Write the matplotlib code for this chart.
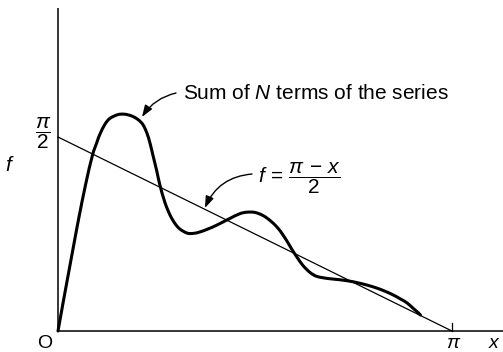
import matplotlib
matplotlib.use("Agg")
import matplotlib.pyplot as plt
from matplotlib.path import Path
from matplotlib.patches import PathPatch
import numpy as np

plt.rcParams['font.family'] = ['Liberation Sans', 'DejaVu Sans']
plt.rcParams['mathtext.fontset'] = 'custom'
plt.rcParams['mathtext.rm'] = 'Liberation Sans'
plt.rcParams['mathtext.it'] = 'Liberation Sans:italic'
plt.rcParams['mathtext.sf'] = 'Liberation Sans'

# partial sum of the Fourier series, sampled along the curve
x_sum = [0.000, 0.048, 0.088, 0.128, 0.167, 0.221, 0.274, 0.311, 0.335, 0.375,
         0.415, 0.478, 0.534, 0.590, 0.638, 0.678, 0.710, 0.734, 0.758, 0.789,
         0.813, 0.853, 0.893, 0.933, 0.973, 1.029, 1.077, 1.132, 1.196, 1.268,
         1.372, 1.451, 1.507, 1.571, 1.635, 1.691, 1.746, 1.786, 1.826, 1.866,
         1.906, 1.954, 2.010, 2.065, 2.153, 2.249, 2.329, 2.384, 2.464, 2.544,
         2.608, 2.671, 2.727, 2.783, 2.831, 2.871, 2.890]
y_sum = [0.000, 0.270, 0.490, 0.710, 0.920, 1.190, 1.420, 1.530, 1.595, 1.675,
         1.722, 1.752, 1.755, 1.740, 1.712, 1.670, 1.600, 1.520, 1.420, 1.290,
         1.180, 1.040, 0.940, 0.870, 0.825, 0.793, 0.790, 0.802, 0.826, 0.858,
         0.912, 0.950, 0.962, 0.960, 0.935, 0.895, 0.842, 0.790, 0.728, 0.660,
         0.598, 0.530, 0.474, 0.442, 0.425, 0.415, 0.403, 0.392, 0.372, 0.347,
         0.322, 0.293, 0.262, 0.228, 0.185, 0.150, 0.130]

# the function itself, f = (pi - x)/2
x_line = [0.0, np.pi]
y_line = [np.pi / 2, 0.0]


def smooth_path(xs, ys):
    # Catmull-Rom through the samples, handed to matplotlib as cubic Bezier segments
    p = np.column_stack([xs, ys])
    ext = np.vstack([p[0], p, p[-1]])
    verts = [p[0]]
    codes = [Path.MOVETO]
    for i in range(1, len(ext) - 2):
        c1 = ext[i] + (ext[i + 1] - ext[i - 1]) / 6
        c2 = ext[i + 1] - (ext[i + 2] - ext[i]) / 6
        verts += [c1, c2, ext[i + 1]]
        codes += [Path.CURVE4] * 3
    return Path(verts, codes)


fig = plt.figure(figsize=(5.03, 3.52), dpi=100)
ax = fig.add_axes([0, 0, 1, 1])
ax.set_xlim(-0.4625, 3.549)
ax.set_ylim(-0.170, 2.680)
ax.axis('off')

# axes
ax.plot([0, 0], [0, 2.615], color='black', lw=1.1, solid_capstyle='butt')
ax.plot([0, 3.6], [0, 0], color='black', lw=1.1, solid_capstyle='butt')
ax.plot([np.pi, np.pi], [0, 0.065], color='black', lw=0.9)

ax.plot(x_line, y_line, color='black', lw=0.9)
ax.add_patch(PathPatch(smooth_path(x_sum, y_sum), facecolor='none', edgecolor='black',
                       lw=2.2, joinstyle='round', capstyle='round'))

ax.text(-0.110, -0.098, 'O', fontsize=14, ha='center', va='center')
ax.text(3.158, -0.100, r'$\pi$', fontsize=14, ha='center', va='center')
ax.text(3.480, -0.100, r'$x$', fontsize=14, ha='center', va='center')
ax.text(-0.383, 1.336, r'$f$', fontsize=15, ha='center', va='center')
ax.text(-0.120, 1.600, r'$\dfrac{\pi}{2}$', fontsize=15, ha='center', va='center')

ax.text(0.997, 1.927, r'Sum of $N$ terms of the series', fontsize=15, ha='left', va='center')
ax.annotate('', xy=(0.670, 1.733), xytext=(0.941, 1.927),
            arrowprops=dict(arrowstyle='-|>,head_length=0.7,head_width=0.25', color='black',
                            lw=1.0, connectionstyle='arc3,rad=0.2', shrinkA=0, shrinkB=0))

ax.text(1.595, 1.239, r'$f\,=\,\dfrac{\pi\,-\,x}{2}$', fontsize=15, ha='left', va='center')
ax.annotate('', xy=(1.172, 0.996), xytext=(1.547, 1.271),
            arrowprops=dict(arrowstyle='-|>,head_length=0.7,head_width=0.25', color='black',
                            lw=1.0, connectionstyle='arc3,rad=0.3', shrinkA=0, shrinkB=0))

fig.savefig('out.png', dpi=100)
